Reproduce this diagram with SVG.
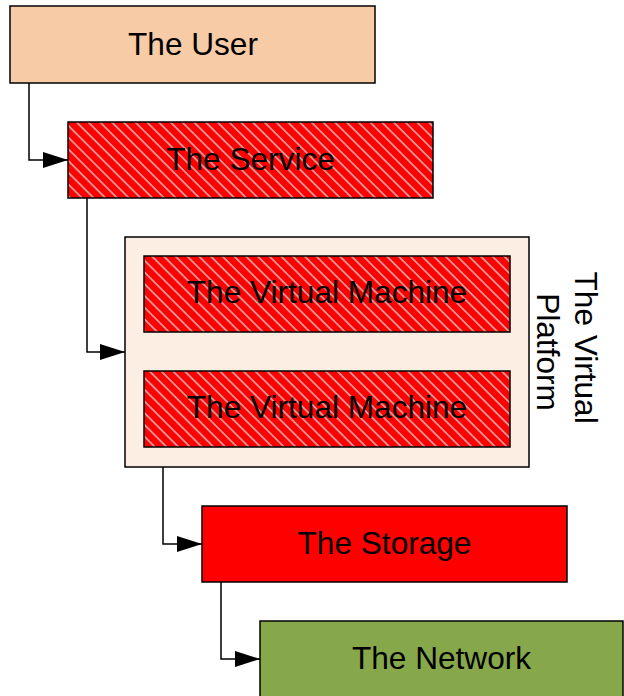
<svg xmlns="http://www.w3.org/2000/svg" width="624" height="696" viewBox="0 0 624 696">
  <defs>
    <!-- diagonal light stripes over red -->
    <pattern id="hatch" patternUnits="userSpaceOnUse" width="8.3" height="8.3" patternTransform="rotate(-45)">
      <rect width="8.3" height="8.3" fill="#FF0000"/>
      <line x1="1" y1="0" x2="1" y2="8.3" stroke="#D9A3A3" stroke-width="1.7"/>
    </pattern>
    <marker id="arrow" markerUnits="userSpaceOnUse" markerWidth="26" markerHeight="17" refX="25" refY="8" orient="auto">
      <path d="M0,0 L25,8 L0,16 Z" fill="#000"/>
    </marker>
    <style>
      .box { stroke: #000; stroke-width: 1.5; }
      .lbl { font-family: "Liberation Sans", Arial, sans-serif; font-size: 31.6px; fill: #000; text-anchor: middle; }
      .conn { fill: none; stroke: #000; stroke-width: 1.5; marker-end: url(#arrow); }
    </style>
  </defs>

  <rect width="624" height="696" fill="#FFFFFF"/>

  <g id="user">
    <rect class="box" x="10" y="6" width="365" height="77" fill="#F8CBA7"/>
    <text class="lbl" x="193" y="55">The User</text>
  </g>

  <g id="service">
    <rect class="box" x="68" y="122" width="365" height="76" fill="url(#hatch)"/>
    <text class="lbl" x="250.5" y="170">The Service</text>
  </g>

  <g id="platform">
    <rect class="box" x="125" y="237" width="404" height="230" fill="#FDEEE3"/>
    <text class="lbl" transform="translate(556,352) rotate(90)">
      <tspan x="0" y="-19">The Virtual</tspan>
      <tspan x="0" y="19">Platform</tspan>
    </text>
  </g>

  <g id="vm1">
    <rect class="box" x="144" y="256" width="366" height="76" fill="url(#hatch)"/>
    <text class="lbl" x="327" y="303">The Virtual Machine</text>
  </g>

  <g id="vm2">
    <rect class="box" x="144" y="371" width="366" height="76" fill="url(#hatch)"/>
    <text class="lbl" x="327" y="418">The Virtual Machine</text>
  </g>

  <g id="storage">
    <rect class="box" x="202" y="506" width="365" height="76" fill="#FF0000"/>
    <text class="lbl" x="384.5" y="554">The Storage</text>
  </g>

  <g id="network">
    <rect class="box" x="260" y="621" width="363" height="85" fill="#87A84A"/>
    <text class="lbl" x="441.5" y="669">The Network</text>
  </g>

  <g id="connectors">
    <path class="conn" d="M29,83 V160 H68"/>
    <path class="conn" d="M87,198 V352 H125"/>
    <path class="conn" d="M163,467 V544 H202"/>
    <path class="conn" d="M221,582 V659 H260"/>
  </g>
</svg>
